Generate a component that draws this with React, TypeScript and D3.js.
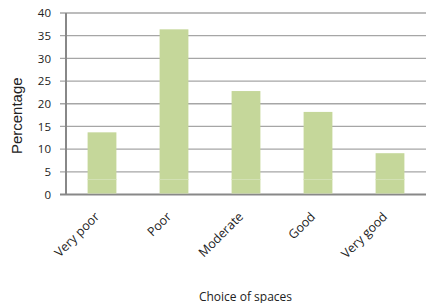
import React from "react";
import * as d3 from "d3";

const categories = ["Very poor", "Poor", "Moderate", "Good", "Very good"];
const percentages = [13.7, 36.4, 22.8, 18.2, 9.1];
const yTicks = [0, 5, 10, 15, 20, 25, 30, 35, 40];

const W = 428;
const H = 303;
const margin = { top: 13, right: 2, bottom: 108.5, left: 66 };

export default function App() {
  const innerW = W - margin.left - margin.right;
  const innerH = H - margin.top - margin.bottom;

  const x = d3.scaleBand<string>()
    .domain(categories)
    .range([0, innerW])
    .paddingInner(0.6)
    .paddingOuter(0.3);

  const y = d3.scaleLinear().domain([0, 40]).range([innerH, 0]);

  const labelFont = "'Open Sans', Lato, sans-serif";

  return (
    <svg
      width={W}
      height={H}
      style={{ position: "absolute", left: 0, top: 0, background: "#fff" }}
    >
      <g transform={`translate(${margin.left},${margin.top})`}>
        {/* grid lines + ticks */}
        {yTicks.map(t => (
          <g key={t}>
            <line
              x1={-6}
              x2={innerW}
              y1={y(t)}
              y2={y(t)}
              stroke={t === 0 ? "#888" : "#a6a6a6"}
              strokeWidth={t === 0 ? 2 : 1.3}
            />
            <text
              x={-15}
              y={y(t)}
              dy="0.36em"
              textAnchor="end"
              fontFamily={labelFont}
              fontSize={11.5}
              fill="#222"
            >
              {t}
            </text>
          </g>
        ))}
        <line x1={0} x2={0} y1={0} y2={innerH} stroke="#888" strokeWidth={2} />

        {/* bars */}
        {categories.map((c, i) => (
          <g key={c}>
            <rect
              x={x(c)}
              y={y(percentages[i])}
              width={x.bandwidth()}
              height={innerH - y(percentages[i]) - 1}
              fill="#c5d79a"
            />
            <line
              x1={x(c)}
              x2={(x(c) as number) + x.bandwidth()}
              y1={y(3.3)}
              y2={y(3.3)}
              stroke="#d3e1b4"
              strokeWidth={1}
            />
          </g>
        ))}

        {/* x labels */}
        {categories.map(c => {
          const cx = (x(c) as number) + x.bandwidth() / 2 - 2;
          return (
            <text
              key={c}
              transform={`translate(${cx},${innerH + 23}) rotate(-45)`}
              textAnchor="end"
              fontFamily={labelFont}
              fontSize={12.5}
              fill="#222"
            >
              {c}
            </text>
          );
        })}

        <text
          transform={`translate(-44,${innerH / 2 + 12}) rotate(-90)`}
          textAnchor="middle"
          fontFamily="'Liberation Sans', Arial, sans-serif"
          fontSize={15}
          fill="#222"
        >
          Percentage
        </text>
        <text
          x={innerW / 2 - 0.5}
          y={innerH + 106}
          textAnchor="middle"
          fontFamily={labelFont}
          fontSize={12}
          fill="#222"
        >
          Choice of spaces
        </text>
      </g>
    </svg>
  );
}
